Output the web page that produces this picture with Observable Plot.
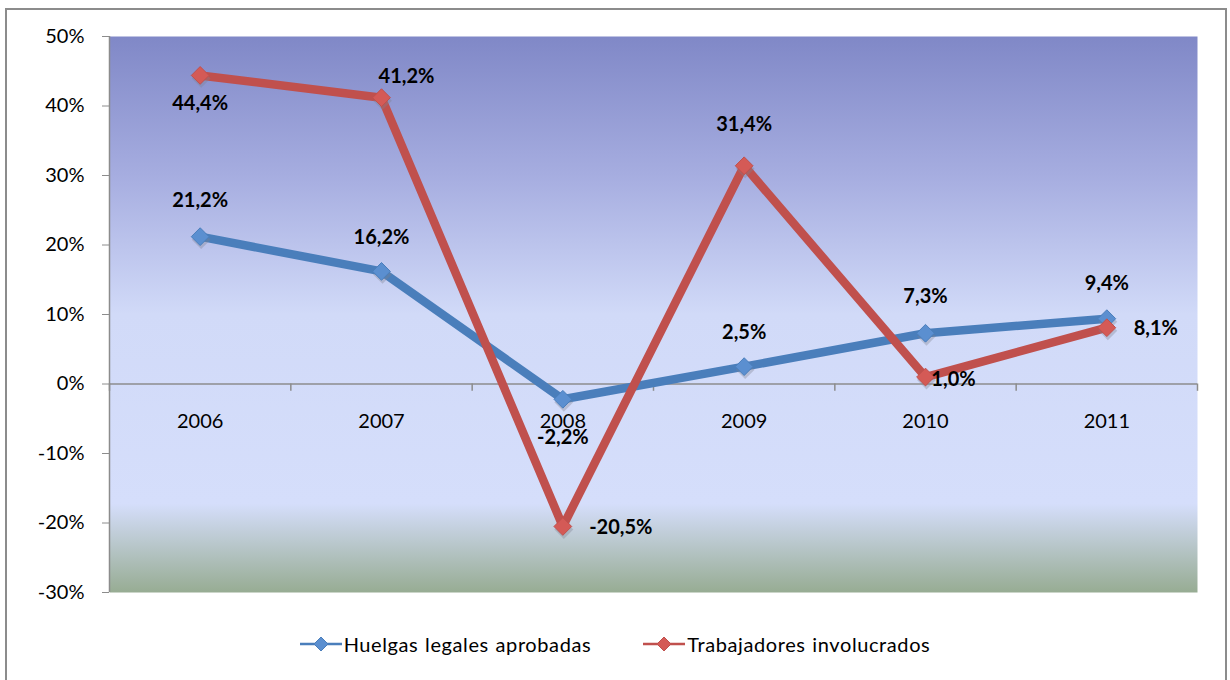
<!DOCTYPE html>
<html>
<head>
<meta charset="utf-8">
<script src="https://cdn.jsdelivr.net/npm/d3@7"></script>
<script src="https://cdn.jsdelivr.net/npm/@observablehq/plot@0.6"></script>
<style>
  html, body { margin: 0; padding: 0; background: #fff; width: 1230px; height: 680px; overflow: hidden; }
  #frame { position: absolute; left: 5px; top: 8px; width: 1222px; height: 700px; border: 2px solid #8c8c8c; border-bottom: none; box-sizing: border-box; }
  #chart { position: absolute; left: 0; top: 0; }
  #legend { position: absolute; left: 0; top: 632px; width: 1230px; display: flex; justify-content: center; gap: 52px; font-family: Lato, "Open Sans", sans-serif; font-size: 20px; letter-spacing: 0.6px; word-spacing: 1px; color: #000; }
  .item { display: flex; align-items: center; gap: 2px; }
</style>
</head>
<body>
<div id="frame"></div>
<div id="chart"></div>
<div id="legend"></div>
<script>
const years = [2006, 2007, 2008, 2009, 2010, 2011];
const huelgas = [21.2, 16.2, -2.2, 2.5, 7.3, 9.4];
const trabajadores = [44.4, 41.2, -20.5, 31.4, 1.0, 8.1];
const seriesNames = ["Huelgas legales aprobadas", "Trabajadores involucrados"];
const yTicks = [-30, -20, -10, 0, 10, 20, 30, 40, 50];

const colors = { [seriesNames[0]]: "#4a7ebb", [seriesNames[1]]: "#c0504d" };
const markerFill = { [seriesNames[0]]: "#5b8fd0", [seriesNames[1]]: "#d45a56" };

const rows = [];
years.forEach((yr, i) => {
  rows.push({ year: yr, value: huelgas[i], series: seriesNames[0] });
  rows.push({ year: yr, value: trabajadores[i], series: seriesNames[1] });
});

// label placement (pixel offsets) per series/year
const labelOffsets = {
  [seriesNames[0]]: { 2006: [0, -36], 2007: [0, -34], 2008: [0, 38], 2009: [0, -34], 2010: [0, -37], 2011: [0, -35] },
  [seriesNames[1]]: { 2006: [0, 28], 2007: [25, -21], 2008: [58, 1], 2009: [0, -41], 2010: [28, 3], 2011: [49, 1] }
};
const fmt = v => v.toFixed(1).replace(".", ",") + "%";
const bounds = years.map(y => y - 0.5).concat([years[years.length - 1] + 0.5]);

const labelMarks = [];
rows.forEach(r => {
  const [dx, dy] = labelOffsets[r.series][r.year];
  labelMarks.push(Plot.text([r], { x: "year", y: "value", text: d => fmt(d.value), dx, dy,
    fontWeight: "bold", fontSize: 20, fill: "#000", textAnchor: "middle", style: "letter-spacing:0.5px" }));
});

const plot = Plot.plot({
  width: 1230,
  height: 605,
  marginTop: 36,
  marginBottom: 13,
  marginLeft: 109,
  marginRight: 33,
  style: { fontFamily: "Lato, 'Open Sans', sans-serif", background: "transparent", overflow: "visible" },
  x: { domain: [bounds[0], bounds[bounds.length - 1]], axis: null },
  y: { domain: [-30, 50], axis: null },
  marks: [
    Plot.frame({ fill: "url(#bgGrad)", stroke: "none" }),
    Plot.ruleY([0], { stroke: "#8c8c8c", strokeWidth: 1.5 }),
    Plot.ruleX(bounds, { y1: 0, y2: -1.05, stroke: "#8c8c8c", strokeWidth: 1.5 }),
    Plot.ruleX([bounds[0]], { stroke: "#8c8c8c", strokeWidth: 1.5 }),
    Plot.axisY({ ticks: yTicks, tickFormat: d => d + "%", tickSize: 7, tickPadding: 18, stroke: "#8c8c8c",
      fontSize: 20, fill: "#000", label: null }),
    Plot.text(years, { x: d => d, y: 0, text: d => String(d), dy: 38, fontSize: 20, fill: "#000" }),
    Plot.line(rows, { x: "year", y: "value", z: "series", stroke: d => colors[d.series], strokeWidth: 8.5, strokeLinejoin: "round" }),
    Plot.dot(rows, { x: "year", y: "value", symbol: "diamond2", r: 8.5, fill: "#7f8090", fillOpacity: 0.35, dx: 1, dy: 3, stroke: "none" }),
    Plot.dot(rows, { x: "year", y: "value", symbol: "diamond2", r: 8, fill: d => markerFill[d.series], stroke: d => colors[d.series], strokeWidth: 1 }),
    ...labelMarks
  ]
});

const ns = "http://www.w3.org/2000/svg";
const defs = document.createElementNS(ns, "defs");
defs.innerHTML = `<linearGradient id="bgGrad" x1="0" y1="0" x2="0" y2="1">
  <stop offset="0" stop-color="#8088c7"/>
  <stop offset="0.25" stop-color="#a6ade0"/>
  <stop offset="0.5" stop-color="#d1daf8"/>
  <stop offset="0.84" stop-color="#d5defb"/>
  <stop offset="1" stop-color="#97ac93"/>
</linearGradient>`;
plot.insertBefore(defs, plot.firstChild);
document.getElementById("chart").appendChild(plot);

const legend = document.getElementById("legend");
seriesNames.forEach(name => {
  const item = document.createElement("div");
  item.className = "item";
  item.innerHTML = `<svg width="42" height="20"><line x1="0" y1="10" x2="42" y2="10" stroke="${colors[name]}" stroke-width="2.5"/>
    <path d="M21 3 L28 10 L21 17 L14 10 Z" fill="${markerFill[name]}" stroke="${colors[name]}"/></svg><span>${name}</span>`;
  legend.appendChild(item);
});
</script>
</body>
</html>
